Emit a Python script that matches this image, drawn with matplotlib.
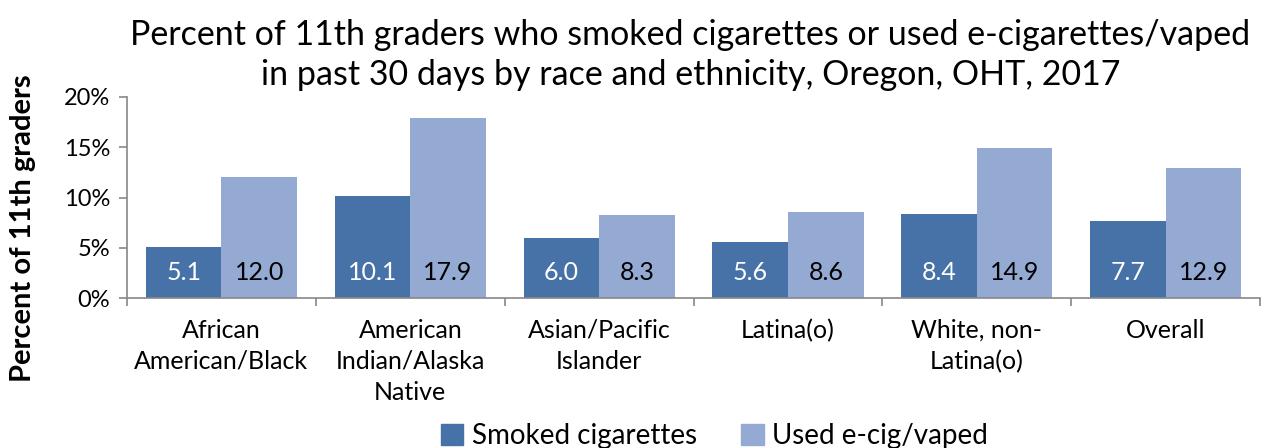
import matplotlib
matplotlib.use("Agg")
import matplotlib.pyplot as plt
import numpy as np
from matplotlib.ticker import FuncFormatter, FixedLocator

plt.rcParams['font.family'] = ['Lato', 'DejaVu Sans']

categories = ["African\nAmerican/Black", "American\nIndian/Alaska\nNative", "Asian/Pacific\nIslander",
              "Latina(o)", "White, non-\nLatina(o)", "Overall"]
smoked = [5.1, 10.1, 6.0, 5.6, 8.4, 7.7]
vaped = [12.0, 17.9, 8.3, 8.6, 14.9, 12.9]
series_names = ["Smoked cigarettes", "Used e-cig/vaped"]
title = "Percent of 11th graders who smoked cigarettes or used e-cigarettes/vaped\nin past 30 days by race and ethnicity, Oregon, OHT, 2017"
ylabel = "Percent of 11th graders"

c_dark = "#4672A8"
c_light = "#94AAD2"

fig = plt.figure(figsize=(12.69, 4.48), dpi=100)
ax = fig.add_axes([0.1001, 0.3348, 0.8929, 0.4487])

x = np.arange(len(categories))
w = 0.4
b1 = ax.bar(x - w/2, smoked, w, color=c_dark, edgecolor="none")
b2 = ax.bar(x + w/2, vaped, w, color=c_light, edgecolor="none")

for rect, v in zip(b1, smoked):
    ax.text(rect.get_x() + rect.get_width()/2, 2.5, f"{v:.1f}", ha="center", va="center",
            color="white", fontsize=18)
for rect, v in zip(b2, vaped):
    ax.text(rect.get_x() + rect.get_width()/2, 2.5, f"{v:.1f}", ha="center", va="center",
            color="black", fontsize=18)

ax.set_xlim(-0.5, len(categories) - 0.5)
ax.set_ylim(0, 20)
ax.set_yticks([0, 5, 10, 15, 20])
ax.yaxis.set_major_formatter(FuncFormatter(lambda v, p: f"{int(v)}%"))
ax.set_xticks(x)
ax.set_xticklabels(categories, fontsize=18, linespacing=1.42)
ax.xaxis.set_minor_locator(FixedLocator(np.arange(-0.5, len(categories), 1.0)))
ax.tick_params(axis="x", which="major", length=0, pad=15)
ax.tick_params(axis="x", which="minor", length=6, color="#888888", width=1.2, direction="out")
ax.tick_params(axis="y", length=6, color="#888888", width=1.2, labelsize=17, pad=6)

for s in ["top", "right"]:
    ax.spines[s].set_visible(False)
for s in ["left", "bottom"]:
    ax.spines[s].set_color("#888888")
    ax.spines[s].set_linewidth(1.2)

fig.text(0.018, 0.491, ylabel, rotation=90, ha="center", va="center", fontsize=21, fontweight="bold")

fig.text(0.544, 0.877, title, ha="center", va="center", fontsize=24.5, linespacing=1.32)

handles = [plt.Rectangle((0, 0), 1, 1, color=c_dark), plt.Rectangle((0, 0), 1, 1, color=c_light)]
fig.legend(handles, series_names, loc="center", bbox_to_anchor=(0.563, 0.026), ncol=2,
           frameon=False, fontsize=20, handlelength=0.8, handleheight=0.8,
           handletextpad=0.3, columnspacing=1.6, borderpad=0)

fig.savefig("out.png", dpi=100)
